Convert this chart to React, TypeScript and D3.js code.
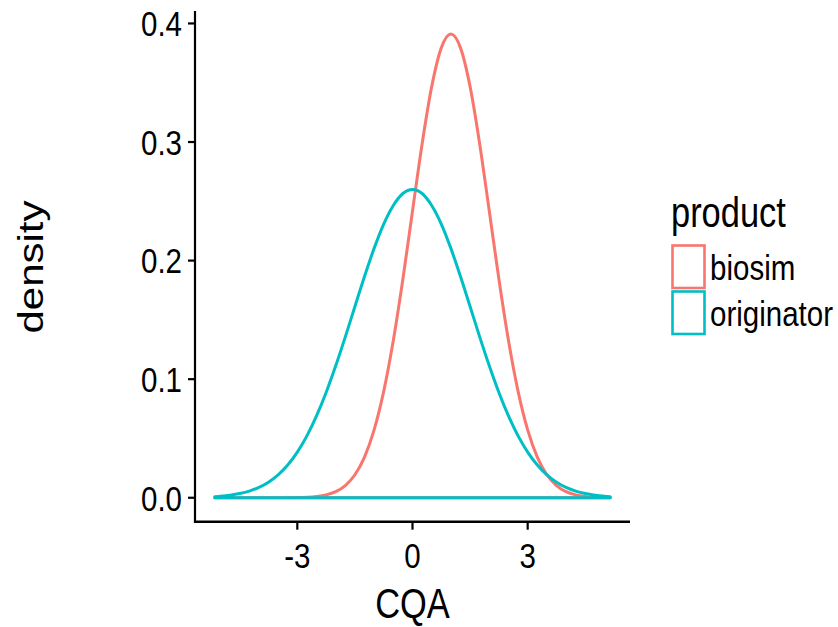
import React from "react";
import * as d3 from "d3";

// CQA grid (x) and density values
const cqaGrid = [
  -5.15, -5, -4.75, -4.5, -4.25, -4, -3.75, -3.5, -3.25, -3, -2.75, -2.5, -2.25, -2, -1.75, -1.5, -1.25, -1, -0.75, -0.5, -0.25,
  0, 0.25, 0.5, 0.75, 1, 1.25, 1.5, 1.75, 2, 2.25, 2.5, 2.75, 3, 3.25, 3.5, 3.75, 4, 4.25, 4.5, 4.75, 5, 5.15,
];
const biosimDensity = [
  0, 0, 0, 0, 0, 0, 0, 0, 0.0001, 0.0002, 0.00045, 0.00109, 0.00244, 0.00517, 0.01032, 0.0194, 0.0343, 0.0572, 0.0897, 0.1326, 0.1845,
  0.2418, 0.2984, 0.3467, 0.3794, 0.391, 0.3794, 0.3467, 0.2984, 0.2418, 0.1845, 0.1326, 0.0897, 0.0572, 0.0343, 0.0194, 0.01032,
  0.00517, 0.00244, 0.00109, 0.00045, 0.00018, 0.0001,
];
const originatorDensity = [
  0.00093, 0.00129, 0.00217, 0.00354, 0.00563, 0.00872, 0.01315, 0.0193, 0.0276, 0.0385, 0.0522, 0.069, 0.0888, 0.1113, 0.1357,
  0.1613, 0.1866, 0.2103, 0.2308, 0.2465, 0.2566, 0.26, 0.2566, 0.2465, 0.2308, 0.2103, 0.1866, 0.1613, 0.1357, 0.1113, 0.0888,
  0.069, 0.0522, 0.0385, 0.0276, 0.0193, 0.01315, 0.00872, 0.00563, 0.00354, 0.00217, 0.00129, 0.00093,
];

const products = ["biosim", "originator"];
const productColors = ["#F8766D", "#00BFC4"];
const xTicks = [-3, 0, 3];
const yTicks = [0, 0.1, 0.2, 0.3, 0.4];

const W = 838;
const H = 627;
const SX = 0.82; // horizontal squash of text
const FONT = "'Liberation Sans', Arial, Helvetica, sans-serif";

export default function App() {
  const left = 195, right = 630, top = 11, bottom = 521.7;
  const x = d3.scaleLinear().domain([-5.665, 5.665]).range([left, right]);
  const y = d3.scaleLinear().domain([-0.0202, 0.4105]).range([bottom, top]);

  const seriesData = [biosimDensity, originatorDensity];
  const line = d3
    .line<[number, number]>()
    .x((d) => x(d[0]))
    .y((d) => y(d[1]))
    .curve(d3.curveMonotoneX);

  const paths = seriesData.map((vals) => {
    const pts: [number, number][] = cqaGrid.map((g, i) => [g, vals[i]]);
    const d = line(pts) || "";
    const x0 = x(cqaGrid[0]);
    const x1 = x(cqaGrid[cqaGrid.length - 1]);
    return `${d}L${x1},${y(0)}L${x0},${y(0)}Z`;
  });

  const tickFont = 36;
  const titleFont = 42;

  return (
    <svg
      width={W}
      height={H}
      style={{ position: "fixed", left: 0, top: 0, background: "#fff" }}
      fontFamily={FONT}
    >
      <rect x={0} y={0} width={W} height={H} fill="#fff" />
      {paths.map((p, i) => (
        <path key={i} d={p} fill="none" stroke={productColors[i]} strokeWidth={3} strokeLinejoin="round" strokeLinecap="round" />
      ))}

      {/* axes */}
      <line x1={left} x2={left} y1={top} y2={bottom} stroke="#000" strokeWidth={2.2} />
      <line x1={left - 1.1} x2={right} y1={bottom} y2={bottom} stroke="#000" strokeWidth={2.4} />
      {yTicks.map((t) => (
        <g key={"y" + t}>
          <line x1={left - 7} x2={left} y1={y(t)} y2={y(t)} stroke="#000" strokeWidth={2.2} />
          <text
            transform={`translate(${left - 13},${y(t) + 0.358 * tickFont}) scale(${SX},1)`}
            fontSize={tickFont}
            textAnchor="end"
            fill="#000"
          >
            {t.toFixed(1)}
          </text>
        </g>
      ))}
      {xTicks.map((t) => (
        <g key={"x" + t}>
          <line x1={x(t)} x2={x(t)} y1={bottom} y2={bottom + 8} stroke="#000" strokeWidth={2.2} />
          <text
            transform={`translate(${x(t)},${568}) scale(${SX},1)`}
            fontSize={tickFont}
            textAnchor="middle"
            fill="#000"
          >
            {t}
          </text>
        </g>
      ))}

      {/* axis titles */}
      <text
        transform={`translate(${(left + right) / 2},${618}) scale(${SX},1)`}
        fontSize={titleFont}
        textAnchor="middle"
        fill="#000"
      >
        CQA
      </text>
      <text
        transform={`translate(${43},${267}) scale(${SX},1) rotate(-90)`}
        fontSize={titleFont}
        textAnchor="middle"
        fill="#000"
      >
        density
      </text>

      {/* legend */}
      <text transform={`translate(${671},${227}) scale(${SX},1)`} fontSize={titleFont} fill="#000">
        product
      </text>
      {products.map((p, i) => {
        const ky = 245.5 + i * 46;
        return (
          <g key={p}>
            <rect x={672.5} y={ky} width={32} height={42.5} fill="#fff" stroke={productColors[i]} strokeWidth={2.6} />
            <text
              transform={`translate(${710},${ky + 21.25 + 0.358 * tickFont}) scale(${SX},1)`}
              fontSize={tickFont}
              fill="#000"
            >
              {p}
            </text>
          </g>
        );
      })}
    </svg>
  );
}
